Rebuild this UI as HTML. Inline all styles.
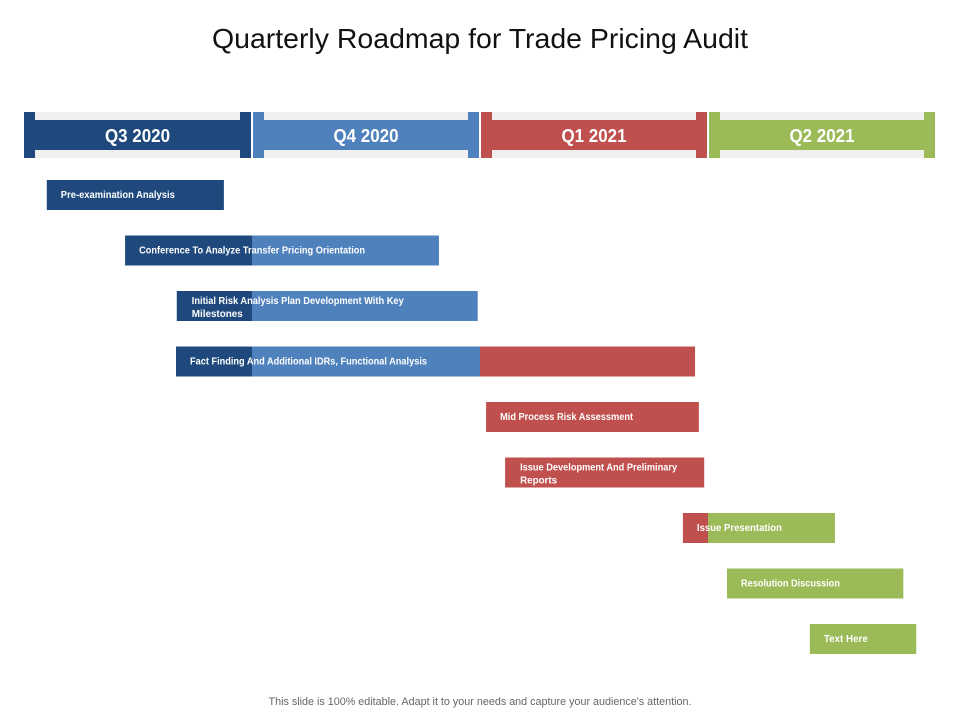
<!DOCTYPE html>
<html><head><meta charset="utf-8"><style>
html,body{margin:0;padding:0;background:#fff;}
svg{display:block;font-family:"Liberation Sans",sans-serif;}
</style></head><body>
<svg id="chart" width="960" height="720" viewBox="0 0 960 720">
<text x="480" y="48" text-anchor="middle" font-size="28" fill="#111" textLength="536" lengthAdjust="spacingAndGlyphs">Quarterly Roadmap for Trade Pricing Audit</text>
<g id="header"></g>
<g id="bars"></g>
<text x="480" y="705" text-anchor="middle" font-size="11" fill="#666" textLength="423" lengthAdjust="spacingAndGlyphs">This slide is 100% editable. Adapt it to your needs and capture your audience's attention.</text>
</svg>
<script>
const quarters = ["Q3 2020","Q4 2020","Q1 2021","Q2 2021"];
const quarterColors = ["#1f497d","#4f81bd","#c0504d","#9bbb59"];
const taskNames = [
 ["Pre-examination Analysis"],
 ["Conference To Analyze Transfer Pricing Orientation"],
 ["Initial Risk Analysis Plan Development With Key","Milestones"],
 ["Fact Finding And Additional IDRs, Functional Analysis"],
 ["Mid Process Risk Assessment"],
 ["Issue Development And Preliminary","Reports"],
 ["Issue Presentation"],
 ["Resolution Discussion"],
 ["Text Here"]
];
// start/end in months from start of Q3 2020
const taskStart = [0.30,1.33,2.01,2.00,6.08,6.33,8.67,9.25,10.34];
const taskEnd   = [2.63,5.46,5.97,8.83,8.88,8.95,10.67,11.57,11.74];
const labelWidths = [[114],[226],[212,51],[237],[133],[157,37],[85],[99],[44]];

const NS="http://www.w3.org/2000/svg";
const X0=24, MPX=76; // month scale
const xs = m => X0 + m*MPX;
const rowY = i => 180 + i*55.5;
function mk(tag,attrs,parent){const e=document.createElementNS(NS,tag);for(const k in attrs)e.setAttribute(k,attrs[k]);parent.appendChild(e);return e;}
const hdr=document.getElementById('header');
quarters.forEach((q,i)=>{
  const x1=xs(i*3)+(i?1:0), x2=xs(i*3+3)-1;
  const g=mk('g',{},hdr);
  
  
  mk('rect',{x:x1,y:112,width:x2-x1,height:46,fill:quarterColors[i]},g);
  mk('rect',{x:x1+11,y:112,width:x2-x1-22,height:8,fill:"#f0f0f0"},g);
  mk('rect',{x:x1+11,y:150,width:x2-x1-22,height:8,fill:"#f0f0f0"},g);
  const t=mk('text',{x:(x1+x2)/2,y:142,'text-anchor':'middle','font-size':18,'font-weight':'bold',fill:'#fff',textLength:65,lengthAdjust:'spacingAndGlyphs'},g);
  t.textContent=q;
});
const bars=document.getElementById('bars');
const segColors=["#1f497d","#4f81bd","#c0504d","#9bbb59"];
taskNames.forEach((lines,i)=>{
  const g=mk('g',{},bars);
  
  
  const y=rowY(i), s=taskStart[i], e=taskEnd[i];
  for(let q=0;q<4;q++){
    const a=Math.max(s,q*3), b=Math.min(e,q*3+3);
    if(b>a) mk('rect',{x:xs(a),y:y,width:xs(b)-xs(a),height:30,fill:segColors[q]},g);
  }
  const tx=xs(s)+14+(i===2||i===5?1:0);
  lines.forEach((ln,j)=>{
    const ty = lines.length===1 ? y+18 : y+13+j*13;
    const t=mk('text',{x:tx,y:ty,'font-size':10,'font-weight':'bold',fill:'#fff',textLength:labelWidths[i][j],lengthAdjust:'spacingAndGlyphs'},g);
    
    
    t.textContent=ln;
  });
});
</script>
</body></html>
